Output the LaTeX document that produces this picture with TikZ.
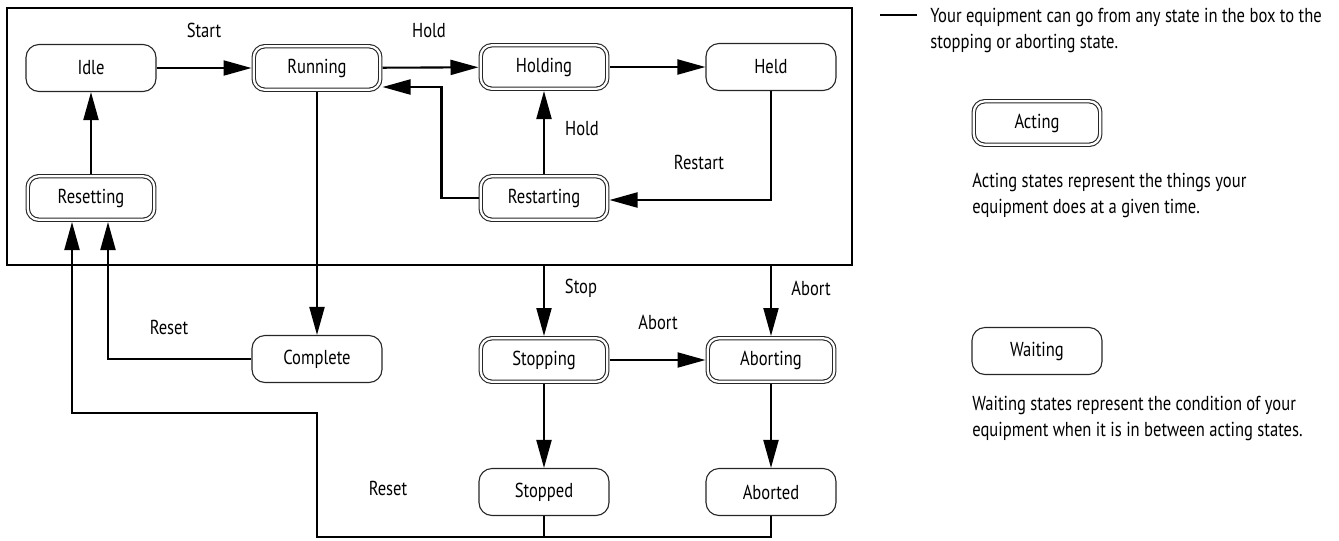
\documentclass[tikz,border=0pt]{standalone}
\usepackage{fontspec}
\setmainfont{PT Sans}[FakeStretch=0.82]
\usetikzlibrary{arrows.meta}

\tikzset{
  waitstate/.style={draw=black!85, line width=0.22mm, rounded corners=2.6mm,
    minimum width=26mm, minimum height=9.4mm, inner sep=0pt,
    font=\fontsize{11.5}{14}\selectfont},
  actstate/.style={waitstate, double, double distance=0.45mm, rounded corners=2.2mm,
    minimum width=25.3mm, minimum height=8.7mm, outer sep=0.45mm},
  flow/.style={line width=0.42mm, -{Triangle[length=5.6mm,width=3mm]}},
  link/.style={line width=0.42mm},
  lbl/.style={inner sep=0pt, font=\fontsize{11.5}{14}\selectfont},
  note/.style={align=left, anchor=west, inner sep=0pt, font=\fontsize{11.5}{14.8}\selectfont}
}

\begin{document}
\begin{tikzpicture}[x=0.2mm, y=-0.2mm]
		\useasboundingbox (0,0) rectangle (1339,540);

		% --- states inside the box ---
		\node[draw, line width=0.42mm, minimum width=169mm, minimum height=51.4mm, inner sep=0pt] (inbox) at (429.5,136.5) {};
		\node[waitstate] (idle) at (91,68) {Idle};
		\node[actstate] (running) at (317,68) {Running};
		\node[actstate] (holding) at (544,67) {Holding};
		\node[waitstate] (held) at (771,67) {Held};
		\node[actstate] (resetting) at (91,198) {Resetting};
		\node[actstate] (restarting) at (544,198) {Restarting};

		% --- states below the box ---
		\node[waitstate] (complete) at (317,359) {Complete};
		\node[actstate] (stopping) at (544,360) {Stopping};
		\node[actstate] (aborting) at (771,360) {Aborting};
		\node[waitstate] (stopped) at (544,492) {Stopped};
		\node[waitstate] (aborted) at (771,492) {Aborted};

		% --- transitions ---
		\draw[flow] (idle) -- (running);
		\draw[flow] (running) -- (holding);
		\draw[flow] (holding) -- (held);
		\draw[flow] (held.south) |- ([yshift=-0.4mm]restarting.east);
		\draw[flow] (restarting) -- (holding);
		\draw[flow] (restarting.west) -- ++(-37,0) |- ([yshift=-3.8mm]running.east);
		\draw[flow] (resetting) -- (idle);
		\draw[flow] (running) -- (complete);
		\draw[flow] (complete.west) -| ([xshift=3.4mm]resetting.south);
		\draw[flow] (inbox.south -| stopping) -- (stopping);
		\draw[flow] (inbox.south -| aborting) -- (aborting);
		\draw[flow] (stopping) -- (aborting);
		\draw[flow] (stopping) -- (stopped);
		\draw[flow] (aborting) -- (aborted);

		\coordinate (resetlow) at (317,537);
		\coordinate (resetmid) at (317,413);
		\draw[link] (stopped.south) -- (stopped.south |- resetlow);
		\draw[flow] (aborted.south) |- (resetlow) -- (resetmid) -| ([xshift=-3.8mm]resetting.south);

		% --- labels ---
		\node[lbl] (startlbl) at (204,30) {Start};
		\node[lbl] (holdlbl) at (429,31) {Hold};
		\node[lbl] (rehold) at (582,129) {Hold};
		\node[lbl] (restartlbl) at (699,162) {Restart};
		\node[lbl] (stoplbl) at (581,288) {Stop};
		\node[lbl] (abortlbl) at (811,288) {Abort};
		\node[lbl] (midabort) at (658,322) {Abort};
		\node[lbl] (resetlbl) at (169,327) {Reset};
		\node[lbl] (lowreset) at (388,488) {Reset};

		% --- key ---
		\coordinate (keyline) at (880,15);
		\draw[line width=0.28mm] (keyline) -- ++(37,0);
		\node[note] (boxnote) at (930,30) {Your equipment can go from any state in the box to the\\stopping or aborting state.};
		\node[actstate] (actkey) at (1037,123) {Acting};
		\node[note] (actnote) at (972,195) {Acting states represent the things your\\equipment does at a given time.};
		\node[waitstate] (waitkey) at (1037,351) {Waiting};
		\node[note] (waitnote) at (972,418) {Waiting states represent the condition of your\\equipment when it is in between acting states.};
	\end{tikzpicture}
\end{document}
